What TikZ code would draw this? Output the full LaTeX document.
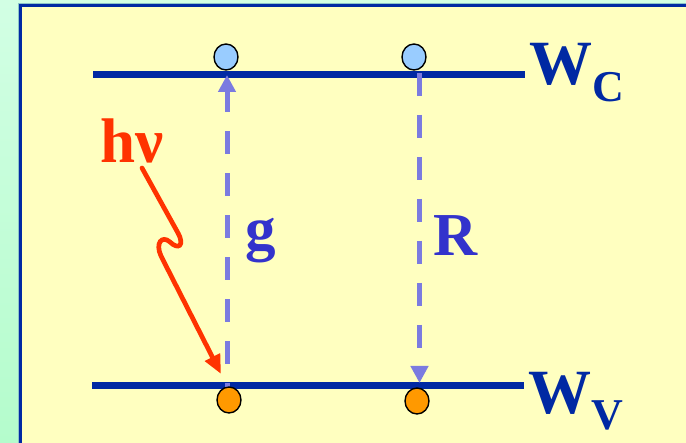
\documentclass[tikz,border=0pt]{standalone}
\usepackage{fontspec}
\setmainfont{Liberation Serif}
\usetikzlibrary{arrows.meta,shapes.geometric}
\definecolor{bgtop}{HTML}{D2FFE4}
\definecolor{bgbot}{HTML}{B4FCCC}
\definecolor{boxfill}{HTML}{FFFFC0}
\definecolor{navy}{HTML}{0029A3}
\definecolor{edge}{HTML}{8CC4C8}
\definecolor{dashblue}{HTML}{7B7BE0}
\definecolor{labelblue}{HTML}{3333CC}
\definecolor{photon}{HTML}{FF3300}
\definecolor{holeblue}{HTML}{99CCFF}
\definecolor{elecorange}{HTML}{FF9900}
\tikzset{
  level/.style={navy, line width=6.5pt},
  particle/.style={ellipse, draw=black, line width=1.4pt, minimum width=24pt, minimum height=26pt, inner sep=0pt},
  hole/.style={particle, fill=holeblue},
  elec/.style={particle, fill=elecorange},
  transition/.style={dashblue, line width=5pt, dash pattern=on 23pt off 19pt, -{Triangle[length=17pt,width=17pt]}},
  biglabel/.style={inner sep=0pt, anchor=base west, font=\bfseries\fontsize{63}{63}\selectfont},
  midlabel/.style={inner sep=0pt, anchor=base west, labelblue, font=\bfseries\fontsize{61}{61}\selectfont}
}
\begin{document}
\begin{tikzpicture}[x=1pt,y=-1pt]
\useasboundingbox (0,0) rectangle (686,443);
\clip (0,0) rectangle (686,443);
\shade[top color=bgtop, bottom color=bgbot] (0,0) rectangle (686,443);
\draw[edge, line width=1pt] (18,3.5) rectangle (720,480);
\draw[navy, fill=boxfill, line width=3pt] (20.5,5.5) rectangle (720,480);

% energy levels
\coordinate (cl) at (93,74.5);
\coordinate (cr) at (525,74.5);
\coordinate (vl) at (92,385.5);
\coordinate (vr) at (524,385.5);
\draw[level] (cl) -- (cr);
\draw[level] (vl) -- (vr);

% transitions
\coordinate (gs) at (227,387);
\coordinate (ge) at (227,75);
\coordinate (rs) at (419.5,73);
\coordinate (re) at (419.5,383);
\draw[transition, dash phase=19pt] (gs) -- (ge);
\draw[transition] (rs) -- (re);

% particles
\node[hole] (c1) at (226,57) {};
\node[hole] (c2) at (414,57) {};
\node[elec] (v1) at (229,400) {};
\node[elec] (v2) at (417,401) {};

% labels
\node[biglabel, navy] (WC) at (529,85) {W\raisebox{-17pt}{\fontsize{44}{44}\selectfont C}};
\node[biglabel, navy] (WV) at (528,414) {W\raisebox{-16pt}{\fontsize{44}{44}\selectfont V}};
\node[biglabel, photon] (hnu) at (100,163) {hν};
\node[midlabel] (g) at (245,250) {g};
\node[midlabel] (R) at (433,256) {R};

% photon
\coordinate (ps) at (142,168);
\coordinate (pe) at (221,374);
\draw[photon, line width=4.7pt, line cap=round, -{Triangle[length=19pt,width=16pt]}]
  (ps) -- (178,233) .. controls (185,246) and (178,250) .. (170,242)
  .. controls (162,235) and (155,243) .. (161,256) -- (pe);
\end{tikzpicture}
\end{document}
